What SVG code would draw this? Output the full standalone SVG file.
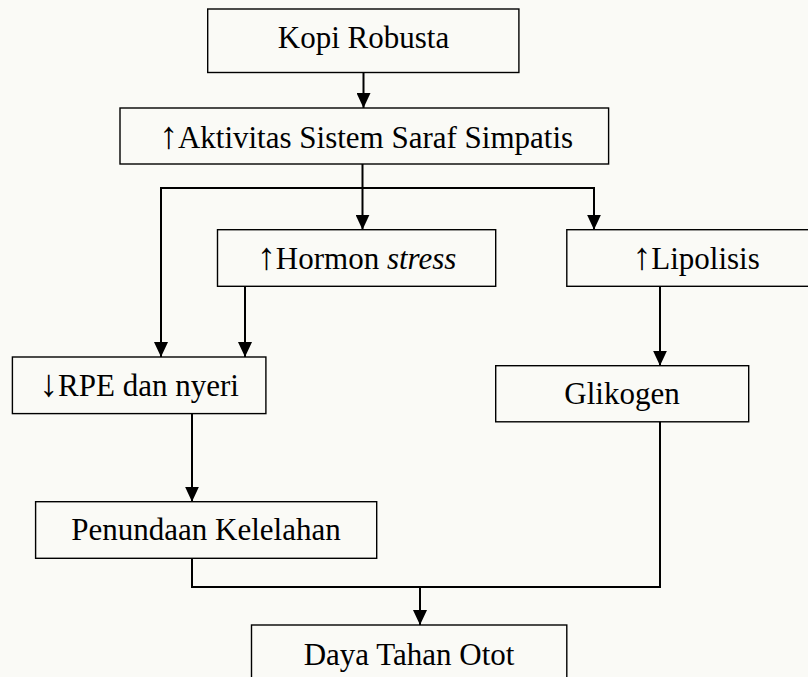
<svg xmlns="http://www.w3.org/2000/svg" width="808" height="677" viewBox="0 0 808 677">
  <defs>
    <style>
      .box { fill: none; stroke: #000; stroke-width: 1.4; }
      .lbl { font-family: "Liberation Serif", "Times New Roman", serif; font-size: 31px; fill: #000; text-anchor: middle; }
      .arw { font-size: 38px; }
      .conn { fill: none; stroke: #000; stroke-width: 2; }
    </style>
    <marker id="arrow" viewBox="0 0 15 14" refX="15" refY="7" markerWidth="15" markerHeight="14" orient="auto" markerUnits="userSpaceOnUse">
      <path d="M0,0 L15,7 L0,14 Z" fill="#000"/>
    </marker>
  </defs>
  <rect x="0" y="0" width="808" height="677" fill="#fafaf6"/>

  <g id="connectors">
    <path class="conn" d="M363.5,72.5 V108" marker-end="url(#arrow)"/>
    <path class="conn" d="M362.5,164 V188 M161,188 H594"/>
    <path class="conn" d="M161,187 V357" marker-end="url(#arrow)"/>
    <path class="conn" d="M362.5,188 V229.7" marker-end="url(#arrow)"/>
    <path class="conn" d="M594,187 V229.7" marker-end="url(#arrow)"/>
    <path class="conn" d="M245,286.3 V357" marker-end="url(#arrow)"/>
    <path class="conn" d="M660,286.3 V365.7" marker-end="url(#arrow)"/>
    <path class="conn" d="M192,413.6 V501.7" marker-end="url(#arrow)"/>
    <path class="conn" d="M192,558.3 V587 H660 V421.8"/>
    <path class="conn" d="M420,587 V625" marker-end="url(#arrow)"/>
  </g>

  <g id="kopi">
    <rect class="box" x="207.7" y="9" width="311.2" height="63.5"/>
    <text class="lbl" x="363.5" y="47.5">Kopi Robusta</text>
  </g>
  <g id="aktivitas">
    <rect class="box" x="120" y="108" width="488.6" height="56"/>
    <text class="lbl" x="366" y="148"><tspan class="arw">↑</tspan>Aktivitas Sistem Saraf Simpatis</text>
  </g>
  <g id="hormon">
    <rect class="box" x="217.5" y="229.7" width="278.2" height="56.6"/>
    <text class="lbl" x="356.6" y="268.5"><tspan class="arw">↑</tspan>Hormon <tspan font-style="italic">stress</tspan></text>
  </g>
  <g id="lipolisis">
    <rect class="box" x="566.8" y="229.7" width="258" height="56.6"/>
    <text class="lbl" x="696" y="269"><tspan class="arw">↑</tspan>Lipolisis</text>
  </g>
  <g id="rpe">
    <rect class="box" x="12.4" y="357" width="253.5" height="56.6"/>
    <text class="lbl" x="139" y="395.5"><tspan class="arw">↓</tspan>RPE dan nyeri</text>
  </g>
  <g id="glikogen">
    <rect class="box" x="495.7" y="365.7" width="253" height="56.1"/>
    <text class="lbl" x="622" y="403.5">Glikogen</text>
  </g>
  <g id="penundaan">
    <rect class="box" x="35.6" y="501.7" width="341.1" height="56.6"/>
    <text class="lbl" x="206" y="540">Penundaan Kelelahan</text>
  </g>
  <g id="daya">
    <rect class="box" x="251.5" y="625" width="315.3" height="60"/>
    <text class="lbl" x="409" y="665">Daya Tahan Otot</text>
  </g>
</svg>
